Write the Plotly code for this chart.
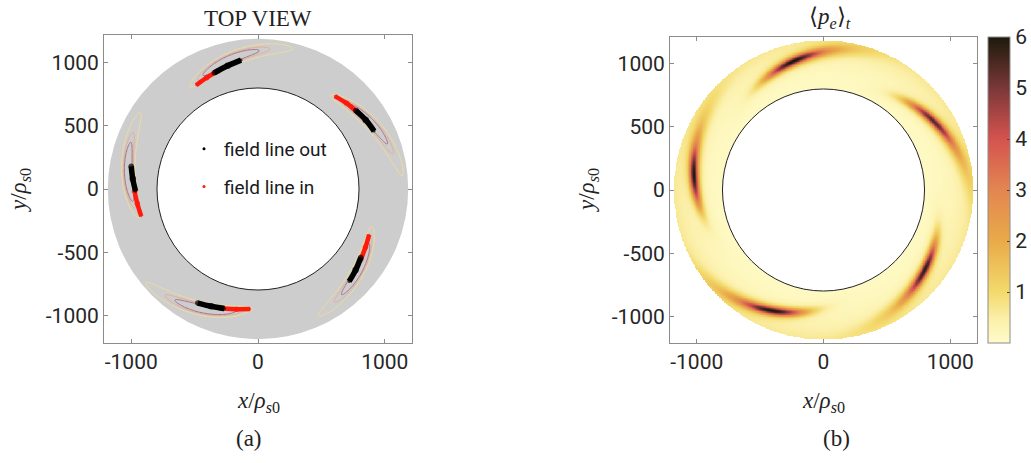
import numpy as np
import plotly.graph_objects as go

# ---------------- data ----------------
# panel (a): point clouds of the two field lines (centre-lines of each streak, 5 blobs)
out_x = [[-344, -240, -134], [772, 850, 916], [-1000, -988, -966], [811, 770, 719], [-475, -370, -265]]
out_y = [[917, 972, 1017], [619, 545, 457], [180, 80, -17], [-540, -640, -729], [-900, -925, -943]]
in_x = [[-488, -405, -317], [606, 700, 785], [-921, -952, -974], [877, 848, 811], [-61, -170, -278]]
in_y = [[818, 878, 930], [733, 676, 606], [-215, -115, -17], [-360, -460, -557], [-947, -948, -943]]

# panel (b): time averaged electron pressure - five spiral streaks
streak_theta_deg = [104.0, 33.0, -37.6, -112.3, 174.0]   # angle of the dark core
streak_radius = [1039.0, 1019.0, 1014.0, 1031.0, 1027.0]  # radius of the dark core
streak_peak = [4.5, 3.9, 4.4, 4.5, 4.5]                   # core amplitude
streak_pitch = [3.6, 4.4, 3.4, 4.3, 2.9]                  # radial growth per degree clockwise
trail_amp = [1.4, 1.4, 1.3, 1.4, 1.3]                     # faint trail amplitude
base_inner, base_outer = 0.12, 0.65                        # background level at inner / outer wall

r_inner, r_outer_a, r_outer_b = 797.0, 1185.0, 1180.0

pe_ticks = [1, 2, 3, 4, 5, 6]
x_ticks = [-1000, 0, 1000]
x_ticklabels = ["-1000", "0", "1000"]
y_ticks = [-1000, -500, 0, 500, 1000]
y_ticklabels = ["-1000", "-500", "0", "500", "1000"]


def streak_field(step):
    g = np.arange(-1200.0, 1200.0 + step / 2, step)
    X, Y = np.meshgrid(g, g)
    R = np.hypot(X, Y)
    TH = np.degrees(np.arctan2(Y, X))
    S = np.zeros_like(R)
    for th0, r0, A, p, ta in zip(streak_theta_deg, streak_radius, streak_peak, streak_pitch, trail_amp):
        s = (TH - th0 + 180.0) % 360.0 - 180.0
        rc = r0 - p * s
        S = S + A * np.exp(-(s / 13.0) ** 2 - ((R - rc) / 32.0) ** 2)
        S = S + ta * np.exp(-((s + 9.0) / 24.0) ** 2 - ((R - rc) / 60.0) ** 2)
    return g, R, S


# panel (b) field
gb, Rb, Sb = streak_field(5.0)
frac = np.clip((Rb - r_inner) / (r_outer_b - r_inner), 0, 1)
Zb = base_inner + (base_outer - base_inner) * frac ** 2 + Sb
Zb = np.where((Rb < r_inner) | (Rb > r_outer_b), np.nan, np.round(Zb, 2))

# panel (a) contours (streak part only)
ga, Ra, Sa = streak_field(10.0)
Za = np.where((Ra < r_inner) | (Ra > r_outer_a), np.nan, np.round(Sa, 3))

W, H = 1031, 463


def px_x(p):
    return p / W


def px_y(p):
    return (H - p) / H


lajolla = [
    [0.0, "#FFFCCB"], [0.08, "#FBEFA8"], [0.1667, "#F3DA6C"], [0.3333, "#E9AA48"],
    [0.5, "#E38651"], [0.6667, "#D4534F"], [0.8333, "#7A3838"], [1.0, "#1C1A0C"],
]

fig = go.Figure()

# panel (a) contours
fig.add_trace(go.Contour(
    x=ga, y=ga, z=Za, xaxis="x", yaxis="y", showscale=False, hoverinfo="skip",
    contours=dict(start=0.8, end=2.6, size=0.9, coloring="lines"),
    zmin=0.8, zmax=2.6,
    colorscale=[[0, "#EEDC9A"], [0.5, "#E4AE92"], [1, "#A8708C"]],
    line=dict(width=1), showlegend=False,
))
for xs, ys in zip(in_x, in_y):
    fig.add_trace(go.Scatter(x=xs, y=ys, mode="lines+markers",
                             line=dict(color="#FF1A0A", width=4.5, shape="spline"),
                             marker=dict(color="#FF1A0A", size=[2, 5.5, 5.5], line=dict(width=0)),
                             showlegend=False, hoverinfo="skip", xaxis="x", yaxis="y"))
for xs, ys in zip(out_x, out_y):
    fig.add_trace(go.Scatter(x=xs, y=ys, mode="lines+markers",
                             line=dict(color="#000000", width=5.5, shape="spline"),
                             marker=dict(color="#000000", size=[5.5, 6.5, 3], line=dict(width=0)),
                             showlegend=False, hoverinfo="skip", xaxis="x", yaxis="y"))
fig.add_trace(go.Scatter(x=[None], y=[None], mode="markers", name="field line out", legendgroup="out",
                         marker=dict(color="#000000", size=3), xaxis="x", yaxis="y"))
fig.add_trace(go.Scatter(x=[None], y=[None], mode="markers", name="field line in", legendgroup="in",
                         marker=dict(color="#FF1A0A", size=3), xaxis="x", yaxis="y"))

# panel (b) heatmap
fig.add_trace(go.Heatmap(
    x=gb, y=gb, z=Zb, xaxis="x2", yaxis="y2", zmin=0, zmax=6, colorscale=lajolla,
    hoverinfo="skip", showlegend=False,
    colorbar=dict(
        x=px_x(988), xanchor="left", xpad=0, ypad=0,
        y=px_y(190), yanchor="middle", len=306 / H, lenmode="fraction",
        thickness=22, thicknessmode="pixels",
        outlinecolor="#8C8C8C", outlinewidth=1,
        tickvals=pe_ticks, ticks="inside", ticklen=3, tickcolor="#444444",
        tickfont=dict(family="Roboto", size=21, color="#262626"),
    ),
))

axis_common = dict(
    showgrid=False, zeroline=False, showline=True, mirror="ticks", linecolor="#8C8C8C", linewidth=1,
    ticks="inside", ticklen=4, tickcolor="#8C8C8C",
    tickfont=dict(family="Roboto", size=21, color="#262626"),
)

fig.update_layout(
    width=W, height=H, margin=dict(l=0, r=0, t=0, b=0),
    paper_bgcolor="white", plot_bgcolor="white",
    xaxis=dict(domain=[px_x(104), px_x(412)], range=[-1215, 1215], tickvals=x_ticks, ticktext=x_ticklabels,
               anchor="y", **axis_common),
    yaxis=dict(domain=[px_y(343), px_y(35)], range=[-1215, 1215], tickvals=y_ticks, ticktext=y_ticklabels,
               anchor="x", **axis_common),
    xaxis2=dict(domain=[px_x(670), px_x(977)], range=[-1211, 1211], tickvals=x_ticks, ticktext=x_ticklabels,
                anchor="y2", **axis_common),
    yaxis2=dict(domain=[px_y(343), px_y(37)], range=[-1207, 1207], tickvals=y_ticks, ticktext=y_ticklabels,
                anchor="x2", **axis_common),
    legend=dict(x=px_x(184), y=px_y(130), xanchor="left", yanchor="top", bgcolor="rgba(0,0,0,0)",
                font=dict(family="Roboto", size=19, color="#1A1A1A"), traceorder="grouped",
                tracegroupgap=10, borderwidth=0),
    shapes=[
        dict(type="circle", xref="x", yref="y", x0=-r_outer_a, y0=-r_outer_a, x1=r_outer_a, y1=r_outer_a,
             fillcolor="#CDCDCD", line=dict(width=0), layer="below"),
        dict(type="circle", xref="x", yref="y", x0=-r_inner, y0=-r_inner, x1=r_inner, y1=r_inner,
             fillcolor="white", line=dict(color="#222222", width=1), layer="below"),
        dict(type="circle", xref="x2", yref="y2", x0=-r_inner, y0=-r_inner, x1=r_inner, y1=r_inner,
             line=dict(color="#222222", width=1), layer="above"),
    ],
)

serif = "Liberation Serif"
ann = [
    dict(text="TOP VIEW", x=px_x(258), y=px_y(18)),
    dict(text="⟨<i>p</i><sub><i>e</i></sub>⟩<sub><i>t</i></sub>", x=px_x(830), y=px_y(18)),
    dict(text="<i>x</i>/<i>ρ</i><sub><i>s</i>0</sub>", x=px_x(258), y=px_y(402)),
    dict(text="<i>x</i>/<i>ρ</i><sub><i>s</i>0</sub>", x=px_x(823), y=px_y(402)),
    dict(text="<i>y</i>/<i>ρ</i><sub><i>s</i>0</sub>", x=px_x(20), y=px_y(190), textangle=-90),
    dict(text="<i>y</i>/<i>ρ</i><sub><i>s</i>0</sub>", x=px_x(588), y=px_y(190), textangle=-90),
    dict(text="(a)", x=px_x(249), y=px_y(438)),
    dict(text="(b)", x=px_x(836), y=px_y(438)),
]
for a in ann:
    fig.add_annotation(xref="paper", yref="paper", showarrow=False, xanchor="center", yanchor="middle",
                       font=dict(family=serif, size=23, color="#222222"), **a)

fig.write_html("out.html")
